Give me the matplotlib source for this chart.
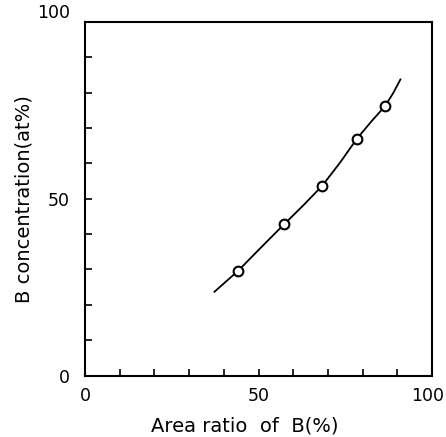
import numpy as np
import matplotlib
matplotlib.use('Agg')
import matplotlib.pyplot as plt
import matplotlib.transforms as mtransforms

# measured points (area ratio %, B at%)
area_pts = [44.2, 57.4, 68.4, 78.4, 86.4]
conc_pts = [29.7, 42.8, 53.7, 67.0, 76.1]

# fitted curve
curve_x = [37.3, 44.2, 50.5, 57.4, 63.0, 68.4, 73.5, 78.4, 82.5, 86.4, 88.8, 90.9]
curve_y = [23.7, 29.7, 36.0, 42.8, 48.2, 53.7, 60.2, 67.0, 71.8, 76.1, 79.8, 83.7]

x_ticks = [0, 50, 100]
y_ticks = [0, 50, 100]

plt.rcParams['font.family'] = ['Liberation Sans Narrow', 'DejaVu Sans']

fig = plt.figure(figsize=(4.46, 4.37), dpi=100)
ax = fig.add_axes([0.1906, 0.1403, 0.778, 0.81])

ax.plot(curve_x, curve_y, color='black', lw=1.3, zorder=2)
ax.plot(area_pts, conc_pts, 'o', ms=7, mfc='white', mec='black', mew=1.5, zorder=3)

ax.set_xlim(0, 100)
ax.set_ylim(0, 100)
ax.set_xticks(np.arange(0, 101, 10))
ax.set_yticks(np.arange(0, 101, 10))
ax.set_xticklabels([str(v) if v in x_ticks else '' for v in range(0, 101, 10)])
ax.set_yticklabels([str(v) if v in y_ticks else '' for v in range(0, 101, 10)])
ax.tick_params(direction='in', length=5, width=1.2, labelsize=12.5, pad=8)
ax.tick_params(axis='y', pad=11)

# nudge end labels like the original
def nudge(lab, dx, dy):
    lab.set_transform(lab.get_transform() +
                      mtransforms.ScaledTranslation(dx / 72, dy / 72, fig.dpi_scale_trans))

nudge(ax.get_yticklabels()[-1], 0, 8)
nudge(ax.get_xticklabels()[-1], -3.5, 0)

for s in ax.spines.values():
    s.set_linewidth(1.5)

lab_font = ['DejaVu Sans']
ax.set_xlabel('Area ratio  of  B(%)', fontsize=14, family=lab_font)
ax.xaxis.set_label_coords(0.46, -0.115)
ax.set_ylabel('B concentration(at%)', fontsize=14, labelpad=2, family=lab_font)

fig.savefig('out.png', dpi=100)
